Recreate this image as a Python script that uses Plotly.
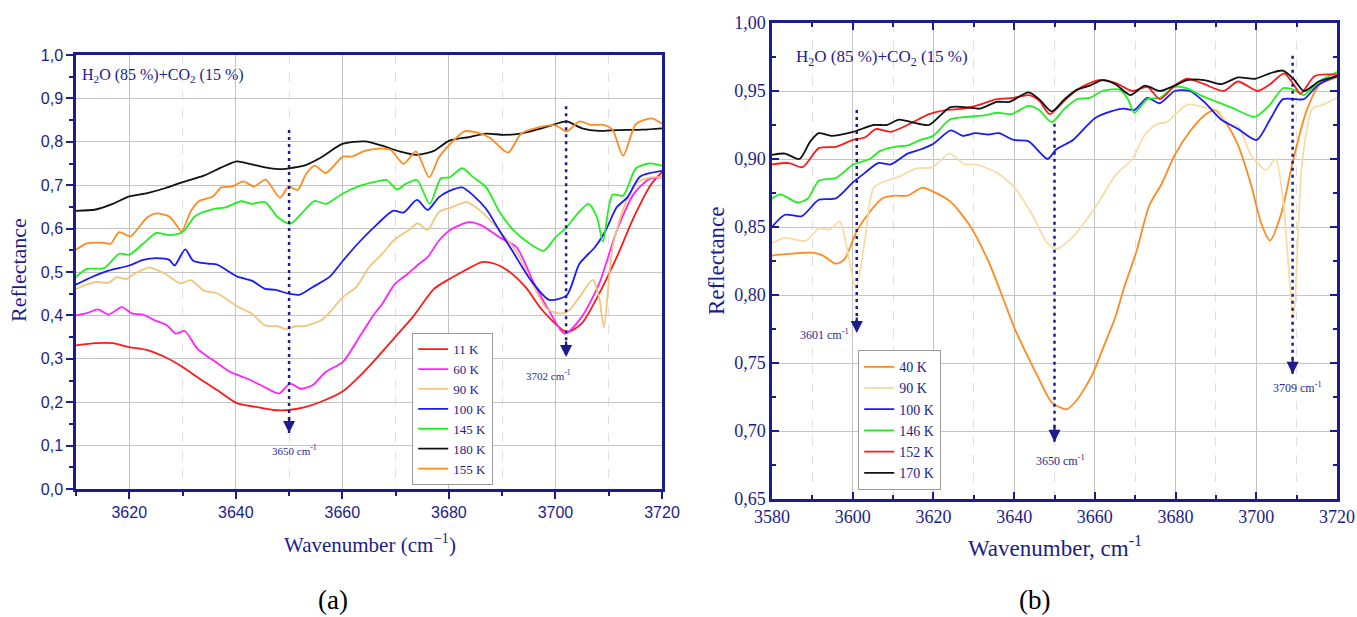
import plotly.graph_objects as go

# ---------------- (a) panel data ----------------
a_11K_x = [3610, 3613.7, 3616.9, 3620, 3623.4, 3626.7, 3630, 3633.2, 3636.5, 3640.2, 3643.8, 3647.1, 3649.9, 3652.8, 3656.0, 3660.1, 3663.4, 3666.6, 3669.9, 3673.2, 3677.2, 3680.1, 3682.9, 3686.2, 3688.6, 3691.1, 3694.4, 3697.6, 3702.1, 3704.9, 3708.2, 3711.5, 3714.7, 3718.0, 3720]
a_11K_y = [0.331, 0.336, 0.336, 0.327, 0.320, 0.304, 0.281, 0.254, 0.228, 0.198, 0.189, 0.182, 0.182, 0.188, 0.201, 0.225, 0.262, 0.304, 0.350, 0.396, 0.461, 0.484, 0.503, 0.523, 0.519, 0.503, 0.465, 0.411, 0.362, 0.381, 0.450, 0.534, 0.626, 0.703, 0.730]

a_60K_x = [3610, 3612.0, 3614.1, 3616.1, 3618.6, 3620.6, 3622.6, 3624.7, 3627.1, 3628.7, 3630.4, 3632.8, 3635.7, 3638.9, 3642.2, 3645.5, 3648.1, 3650.2, 3652.2, 3654.4, 3656.9, 3660.1, 3663.4, 3665.8, 3667.5, 3669.9, 3672.3, 3674.4, 3676.0, 3678.1, 3680.5, 3683.8, 3686.2, 3689.5, 3692.7, 3696.0, 3698.8, 3701.7, 3704.9, 3708.2, 3711.5, 3714.7, 3717.6, 3720]
a_60K_y = [0.400, 0.405, 0.414, 0.402, 0.419, 0.404, 0.402, 0.389, 0.377, 0.358, 0.364, 0.323, 0.297, 0.270, 0.254, 0.234, 0.220, 0.243, 0.231, 0.239, 0.270, 0.293, 0.354, 0.400, 0.427, 0.473, 0.496, 0.519, 0.534, 0.572, 0.599, 0.615, 0.607, 0.580, 0.557, 0.473, 0.411, 0.358, 0.396, 0.473, 0.595, 0.680, 0.714, 0.718]

a_90K_x = [3610, 3613.7, 3616.1, 3617.7, 3619.4, 3621.0, 3623.7, 3626.7, 3629.6, 3631.6, 3634.0, 3636.5, 3640.2, 3643.0, 3645.5, 3647.9, 3649.5, 3651.2, 3652.8, 3656.0, 3657.7, 3660.1, 3662.6, 3665.0, 3667.5, 3669.9, 3672.3, 3674.1, 3676.0, 3678.1, 3680.5, 3683.3, 3686.2, 3689.5, 3692.7, 3696.0, 3698.4, 3700.9, 3702.5, 3704.5, 3707.0, 3708.2, 3709.1, 3710.7, 3713.1, 3715.5, 3718.0, 3720]
a_90K_y = [0.461, 0.477, 0.475, 0.488, 0.484, 0.496, 0.510, 0.496, 0.474, 0.481, 0.457, 0.451, 0.421, 0.404, 0.377, 0.375, 0.368, 0.375, 0.375, 0.389, 0.408, 0.442, 0.465, 0.511, 0.542, 0.576, 0.595, 0.612, 0.597, 0.638, 0.649, 0.661, 0.638, 0.595, 0.546, 0.465, 0.415, 0.404, 0.411, 0.442, 0.482, 0.442, 0.373, 0.557, 0.657, 0.707, 0.718, 0.718]

a_100K_x = [3610, 3612.9, 3616.1, 3620.0, 3622.6, 3625.1, 3627.5, 3628.5, 3630.5, 3632.0, 3634.9, 3636.5, 3640.2, 3643.0, 3645.5, 3647.5, 3649.9, 3652.0, 3654.4, 3657.7, 3660.1, 3663.4, 3666.6, 3669.5, 3671.5, 3674.0, 3676.0, 3678.1, 3680.1, 3682.5, 3684.6, 3687.0, 3689.5, 3691.9, 3695.2, 3698.8, 3702.1, 3704.5, 3707.4, 3709.4, 3711.5, 3713.5, 3715.9, 3720]
a_100K_y = [0.471, 0.488, 0.503, 0.515, 0.528, 0.532, 0.528, 0.515, 0.552, 0.526, 0.519, 0.517, 0.490, 0.480, 0.461, 0.459, 0.450, 0.448, 0.465, 0.490, 0.526, 0.572, 0.611, 0.641, 0.637, 0.666, 0.643, 0.672, 0.687, 0.695, 0.676, 0.645, 0.595, 0.549, 0.484, 0.436, 0.446, 0.519, 0.557, 0.595, 0.649, 0.672, 0.720, 0.733]

a_145K_x = [3610, 3612.0, 3615.3, 3618.1, 3620.0, 3622.6, 3625.1, 3627.5, 3630.0, 3632.4, 3635.7, 3638.1, 3641.0, 3643.0, 3645.5, 3647.9, 3650.2, 3652.8, 3654.8, 3656.9, 3660.1, 3663.4, 3666.6, 3668.3, 3670.3, 3671.9, 3674.0, 3676.4, 3678.5, 3680.1, 3682.5, 3684.6, 3687.0, 3689.5, 3691.9, 3695.2, 3697.8, 3700.0, 3702.1, 3704.1, 3706.2, 3707.8, 3708.9, 3710.7, 3712.7, 3715.1, 3717.6, 3720]
a_145K_y = [0.488, 0.507, 0.509, 0.542, 0.540, 0.565, 0.590, 0.585, 0.592, 0.629, 0.645, 0.649, 0.663, 0.657, 0.661, 0.626, 0.611, 0.641, 0.664, 0.657, 0.681, 0.699, 0.709, 0.712, 0.690, 0.703, 0.712, 0.657, 0.716, 0.718, 0.739, 0.718, 0.695, 0.638, 0.599, 0.565, 0.549, 0.580, 0.603, 0.634, 0.657, 0.626, 0.570, 0.678, 0.676, 0.739, 0.750, 0.745]

a_180K_x = [3610, 3613.7, 3616.9, 3620, 3623.4, 3626.7, 3630, 3634, 3637.3, 3640.2, 3642.6, 3645.5, 3647.9, 3650, 3652.8, 3656, 3660, 3664.2, 3667.5, 3670.7, 3674, 3677.2, 3680, 3683.8, 3687, 3690.3, 3693.5, 3696.8, 3700, 3702.1, 3705, 3708.2, 3711.5, 3716.4, 3720]
a_180K_y = [0.641, 0.644, 0.657, 0.674, 0.682, 0.693, 0.707, 0.722, 0.741, 0.755, 0.749, 0.741, 0.737, 0.739, 0.745, 0.764, 0.795, 0.801, 0.791, 0.778, 0.770, 0.779, 0.802, 0.811, 0.819, 0.816, 0.819, 0.829, 0.841, 0.847, 0.831, 0.825, 0.827, 0.828, 0.831]

a_155K_x = [3610, 3612.0, 3615.3, 3616.5, 3618.1, 3620.2, 3621.8, 3623.4, 3625.1, 3627.5, 3628.7, 3629.8, 3631.6, 3633.2, 3635.7, 3637.3, 3639.3, 3641.4, 3643.4, 3645.6, 3648.3, 3649.9, 3651.6, 3653.2, 3654.8, 3656.9, 3660.1, 3661.8, 3664.2, 3667.5, 3669.1, 3671.5, 3673.8, 3676.3, 3678.1, 3680.1, 3682.9, 3685.4, 3687.8, 3691.1, 3693.5, 3696.8, 3700.0, 3702.1, 3704.5, 3706.6, 3709.1, 3710.7, 3712.7, 3715.1, 3718.0, 3720]
a_155K_y = [0.551, 0.566, 0.567, 0.565, 0.592, 0.582, 0.603, 0.626, 0.635, 0.628, 0.611, 0.593, 0.641, 0.664, 0.674, 0.695, 0.697, 0.709, 0.697, 0.713, 0.671, 0.697, 0.689, 0.726, 0.745, 0.728, 0.766, 0.766, 0.779, 0.785, 0.781, 0.749, 0.778, 0.718, 0.764, 0.793, 0.824, 0.821, 0.808, 0.775, 0.818, 0.833, 0.838, 0.824, 0.847, 0.839, 0.839, 0.828, 0.768, 0.841, 0.854, 0.842]

a_names = ["11 K", "60 K", "90 K", "100 K", "145 K", "180 K", "155 K"]

# ---------------- (b) panel data ----------------
b_40K_x = [3580.0, 3583.2, 3590.5, 3592.6, 3595.8, 3597.9, 3601.0, 3604.2, 3607.3, 3610.5, 3613.6, 3617.3, 3619.9, 3624.1, 3628.8, 3633.6, 3637.2, 3639.9, 3643.0, 3646.2, 3649.3, 3653.0, 3655.6, 3659.3, 3661.9, 3665.1, 3667.2, 3670.3, 3673.5, 3676.6, 3679.8, 3683.5, 3687.1, 3689.8, 3692.4, 3695.5, 3698.7, 3701.3, 3703.4, 3706.1, 3709.2, 3712.4, 3715.5, 3720]
b_40K_y = [0.829, 0.830, 0.831, 0.829, 0.823, 0.826, 0.847, 0.861, 0.871, 0.873, 0.873, 0.879, 0.876, 0.869, 0.852, 0.825, 0.798, 0.777, 0.757, 0.738, 0.721, 0.716, 0.723, 0.741, 0.760, 0.784, 0.805, 0.832, 0.866, 0.882, 0.903, 0.920, 0.932, 0.936, 0.927, 0.910, 0.881, 0.852, 0.840, 0.859, 0.900, 0.935, 0.954, 0.960]

b_90K_x = [3580.0, 3583.2, 3588.4, 3591.6, 3594.2, 3596.8, 3598.4, 3600.8, 3603.1, 3605.2, 3608.4, 3611.5, 3615.7, 3619.9, 3623.9, 3627.8, 3630.4, 3635.7, 3640.1, 3644.1, 3648.3, 3650.6, 3654.6, 3660.0, 3665.1, 3669.3, 3672.4, 3675.6, 3677.7, 3682.9, 3687.1, 3690.3, 3692.9, 3695.5, 3698.7, 3702.4, 3704.8, 3706.6, 3709.2, 3711.3, 3713.9, 3716.6, 3720]
b_90K_y = [0.838, 0.842, 0.840, 0.849, 0.848, 0.854, 0.837, 0.805, 0.842, 0.879, 0.884, 0.887, 0.893, 0.894, 0.904, 0.896, 0.896, 0.890, 0.879, 0.861, 0.838, 0.834, 0.843, 0.864, 0.888, 0.900, 0.918, 0.926, 0.927, 0.940, 0.938, 0.936, 0.926, 0.924, 0.903, 0.892, 0.900, 0.871, 0.784, 0.896, 0.937, 0.940, 0.945]

b_100K_x = [3580.0, 3583.2, 3587.4, 3591.6, 3595.8, 3600.1, 3603.1, 3606.3, 3609.4, 3613.6, 3616.8, 3619.9, 3624.3, 3627.3, 3630.4, 3633.6, 3636.2, 3639.9, 3643.6, 3648.3, 3650.4, 3654.6, 3660.0, 3664.0, 3667.2, 3669.8, 3673.0, 3676.1, 3679.8, 3683.5, 3687.1, 3691.3, 3695.5, 3700.1, 3703.4, 3706.6, 3709.7, 3711.8, 3715.5, 3720]
b_100K_y = [0.850, 0.859, 0.858, 0.870, 0.871, 0.883, 0.890, 0.897, 0.896, 0.904, 0.907, 0.911, 0.921, 0.917, 0.919, 0.918, 0.919, 0.914, 0.913, 0.900, 0.907, 0.914, 0.930, 0.935, 0.937, 0.936, 0.945, 0.941, 0.950, 0.950, 0.942, 0.929, 0.922, 0.914, 0.929, 0.944, 0.944, 0.944, 0.955, 0.961]

b_146K_x = [3580.0, 3582.1, 3586.3, 3588.9, 3591.6, 3595.8, 3600.1, 3604.2, 3606.8, 3610.5, 3613.6, 3616.8, 3619.9, 3624.1, 3628.3, 3632.5, 3635.7, 3639.3, 3643.6, 3646.2, 3649.3, 3652.5, 3655.6, 3658.8, 3661.9, 3666.1, 3668.2, 3669.8, 3673.0, 3676.1, 3679.8, 3682.9, 3686.1, 3690.3, 3694.5, 3699.7, 3703.4, 3706.6, 3709.2, 3711.8, 3715.5, 3720]
b_146K_y = [0.871, 0.874, 0.868, 0.871, 0.884, 0.886, 0.896, 0.900, 0.906, 0.909, 0.910, 0.914, 0.917, 0.929, 0.931, 0.932, 0.934, 0.933, 0.939, 0.936, 0.927, 0.937, 0.944, 0.945, 0.950, 0.951, 0.944, 0.934, 0.944, 0.945, 0.953, 0.952, 0.947, 0.942, 0.937, 0.931, 0.940, 0.952, 0.951, 0.947, 0.957, 0.964]

b_152K_x = [3580.0, 3584.2, 3587.6, 3591.6, 3595.8, 3600.1, 3603.1, 3605.7, 3609.4, 3613.6, 3618.9, 3623.1, 3627.3, 3631.5, 3635.7, 3639.9, 3643.6, 3646.2, 3648.8, 3652.5, 3655.6, 3660.9, 3665.1, 3669.3, 3673.0, 3676.1, 3679.8, 3682.9, 3687.1, 3691.9, 3695.5, 3700.3, 3703.4, 3706.9, 3709.2, 3711.0, 3714.5, 3720]
b_152K_y = [0.896, 0.897, 0.894, 0.908, 0.909, 0.914, 0.916, 0.922, 0.920, 0.925, 0.933, 0.936, 0.937, 0.940, 0.944, 0.945, 0.947, 0.943, 0.933, 0.943, 0.951, 0.958, 0.956, 0.950, 0.953, 0.944, 0.954, 0.959, 0.955, 0.950, 0.957, 0.950, 0.955, 0.963, 0.955, 0.948, 0.961, 0.962]

b_170K_x = [3580.0, 3583.2, 3586.8, 3589.5, 3591.6, 3594.7, 3600.1, 3605.2, 3608.4, 3611.5, 3614.7, 3618.9, 3624.1, 3628.3, 3631.5, 3635.7, 3638.8, 3643.6, 3646.2, 3649.3, 3652.5, 3655.6, 3658.8, 3661.9, 3665.1, 3668.8, 3672.4, 3676.1, 3679.8, 3682.9, 3687.1, 3691.3, 3695.5, 3699.7, 3703.4, 3706.6, 3709.2, 3711.8, 3715.5, 3720]
b_170K_y = [0.903, 0.904, 0.900, 0.913, 0.919, 0.917, 0.920, 0.925, 0.925, 0.929, 0.927, 0.925, 0.938, 0.938, 0.937, 0.942, 0.942, 0.949, 0.944, 0.935, 0.944, 0.951, 0.954, 0.958, 0.955, 0.947, 0.954, 0.950, 0.954, 0.958, 0.958, 0.955, 0.960, 0.959, 0.963, 0.965, 0.959, 0.950, 0.957, 0.961]

b_names = ["40 K", "90 K", "100 K", "146 K", "152 K", "170 K"]

# peak markers: wavenumber, top of dotted line, arrow tip
a_peaks = [3650, 3702]
a_peak_top = [0.827, 0.882]
a_peak_tip = [0.129, 0.304]
b_peaks = [3601, 3650, 3709]
b_peak_top = [0.936, 0.926, 0.976]
b_peak_tip = [0.772, 0.692, 0.742]

NAVY = "#1c1c8c"
SERIF = "Liberation Serif"
SANS = "Liberation Sans"

fig = go.Figure()

a_series = [(a_11K_x, a_11K_y, "#ff1a1a"), (a_60K_x, a_60K_y, "#ff22ff"), (a_90K_x, a_90K_y, "#f2c57c"),
            (a_100K_x, a_100K_y, "#1a1aff"), (a_145K_x, a_145K_y, "#22ee22"), (a_180K_x, a_180K_y, "#111111"),
            (a_155K_x, a_155K_y, "#ff8a1e")]
for (xs, ys, c), n in zip(a_series, a_names):
    fig.add_trace(go.Scatter(x=xs, y=ys, name=n, mode="lines",
                             line=dict(color=c, width=1.8, shape="spline", smoothing=0.7),
                             xaxis="x", yaxis="y", legend="legend"))

b_series = [(b_40K_x, b_40K_y, "#ff8a1e"), (b_90K_x, b_90K_y, "#f8dca8"), (b_100K_x, b_100K_y, "#1a1aff"),
            (b_146K_x, b_146K_y, "#22ee22"), (b_152K_x, b_152K_y, "#ff1a1a"), (b_170K_x, b_170K_y, "#111111")]
for (xs, ys, c), n in zip(b_series, b_names):
    fig.add_trace(go.Scatter(x=xs, y=ys, name=n, mode="lines",
                             line=dict(color=c, width=1.8, shape="spline", smoothing=0.7),
                             xaxis="x2", yaxis="y2", legend="legend2"))

W, H = 1357, 617


def px_x(p):
    return p / W


def px_y(p):
    return 1 - p / H


grid_major = "#c4c4c4"
grid_minor = "#e0e0e0"

axis_common = dict(showline=True, linecolor=NAVY, linewidth=2.5, zeroline=False, automargin=False,
                   showgrid=True, gridcolor=grid_major, gridwidth=1, tickcolor=NAVY, tickwidth=2)

fig.update_layout(
    width=W, height=H, margin=dict(l=0, r=0, t=0, b=0),
    paper_bgcolor="white", plot_bgcolor="white",
    separators=",.",
    xaxis=dict(domain=[px_x(76), px_x(662)], range=[3610, 3720], tick0=3600, dtick=20,
               ticks="outside", ticklen=7, mirror=True,
               tickfont=dict(family=SANS, size=16, color=NAVY),
               minor=dict(dtick=10, tick0=3600, ticks="outside", ticklen=4, tickcolor=NAVY,
                          showgrid=True, gridcolor=grid_minor, griddash="dash", gridwidth=1),
               anchor="y", **axis_common),
    yaxis=dict(domain=[px_y(489), px_y(55)], range=[0, 1], dtick=0.1, tickformat=".1f",
               ticks="outside", ticklen=7, mirror=True,
               tickfont=dict(family=SANS, size=16, color=NAVY),
               minor=dict(dtick=0.05, ticks="outside", ticklen=4, tickcolor=NAVY, showgrid=False),
               anchor="x", **axis_common),
    xaxis2=dict(domain=[px_x(772), px_x(1337)], range=[3580, 3720], tick0=3580, dtick=20,
                ticks="inside", ticklen=7, mirror="allticks",
                tickfont=dict(family=SERIF, size=18, color=NAVY),
                minor=dict(dtick=10, tick0=3580, ticks="inside", ticklen=4, tickcolor=NAVY,
                           showgrid=True, gridcolor=grid_minor, griddash="dash", gridwidth=1),
                anchor="y2", **axis_common),
    yaxis2=dict(domain=[px_y(499), px_y(23)], range=[0.65, 1.0], dtick=0.05, tick0=0.65, tickformat=".2f",
                ticks="inside", ticklen=7, mirror="allticks",
                tickfont=dict(family=SERIF, size=18, color=NAVY),
                minor=dict(dtick=0.025, tick0=0.65, ticks="inside", ticklen=4, tickcolor=NAVY, showgrid=False),
                anchor="x2", **axis_common),
    legend=dict(x=px_x(412), y=px_y(333), xanchor="left", yanchor="top",
                bgcolor="white", bordercolor="#9a9a9a", borderwidth=1.2,
                font=dict(family=SERIF, size=13, color=NAVY), tracegroupgap=0, itemwidth=30),
    legend2=dict(x=px_x(858), y=px_y(350), xanchor="left", yanchor="top",
                 bgcolor="white", bordercolor="#9a9a9a", borderwidth=1.2,
                 font=dict(family=SERIF, size=14, color=NAVY), tracegroupgap=0, itemwidth=30),
    showlegend=True,
)

shapes = []
annotations = []


def add_peak(xr, yr, xp, top, tip, label_x, label_y, fsize):
    shapes.append(dict(type="line", xref=xr, yref=yr, x0=xp, x1=xp, y0=top, y1=tip,
                       line=dict(color=NAVY, width=2.5, dash="3px,4px"), layer="above"))
    annotations.append(dict(xref=xr, yref=yr, x=xp, y=tip, ax=0, ay=-17, text="", showarrow=True,
                            arrowhead=2, arrowsize=1.1, arrowwidth=2.2, arrowcolor=NAVY, standoff=0))
    annotations.append(dict(xref=xr, yref=yr, x=label_x, y=label_y, showarrow=False,
                            xanchor="center", yanchor="middle",
                            text=f"{xp} cm<sup>-1</sup>",
                            font=dict(family=SERIF, size=fsize, color="#2a2a90")))


add_peak("x", "y", a_peaks[0], a_peak_top[0], a_peak_tip[0], 3651.1, 0.090, 11)
add_peak("x", "y", a_peaks[1], a_peak_top[1], a_peak_tip[1], 3698.6, 0.263, 11)
add_peak("x2", "y2", b_peaks[0], b_peak_top[0], b_peak_tip[0], 3593.1, 0.7706, 12)
add_peak("x2", "y2", b_peaks[1], b_peak_top[1], b_peak_tip[1], 3651.4, 0.678, 12)
add_peak("x2", "y2", b_peaks[2], b_peak_top[2], b_peak_tip[2], 3710.3, 0.732, 12)

comp = "H<sub>2</sub>O (85 %)+CO<sub>2</sub> (15 %)"
annotations.append(dict(xref="paper", yref="paper", x=px_x(80), y=px_y(76), xanchor="left", yanchor="middle",
                        text=comp, showarrow=False, font=dict(family=SERIF, size=16, color=NAVY)))
annotations.append(dict(xref="paper", yref="paper", x=px_x(794), y=px_y(58), xanchor="left", yanchor="middle",
                        text=comp, showarrow=False, font=dict(family=SERIF, size=17, color=NAVY)))


def title_ann(text, xp, yp, size, color=NAVY, angle=0):
    annotations.append(dict(xref="paper", yref="paper", x=px_x(xp), y=px_y(yp),
                            xanchor="center", yanchor="middle", textangle=angle,
                            text=text, showarrow=False, font=dict(family=SERIF, size=size, color=color)))


title_ann("Reflectance", 18, 270, 22, angle=-90)
title_ann("Reflectance", 716, 261, 23, angle=-90)
title_ann("Wavenumber (cm<sup>−1</sup>)", 370, 543, 21)
title_ann("Wavenumber, cm<sup>-1</sup>", 1055, 546, 23)
title_ann("(a)", 333, 600, 27, color="black")
title_ann("(b)", 1034, 600, 27, color="black")

fig.update_layout(shapes=shapes, annotations=annotations)

fig.write_html("out.html")
